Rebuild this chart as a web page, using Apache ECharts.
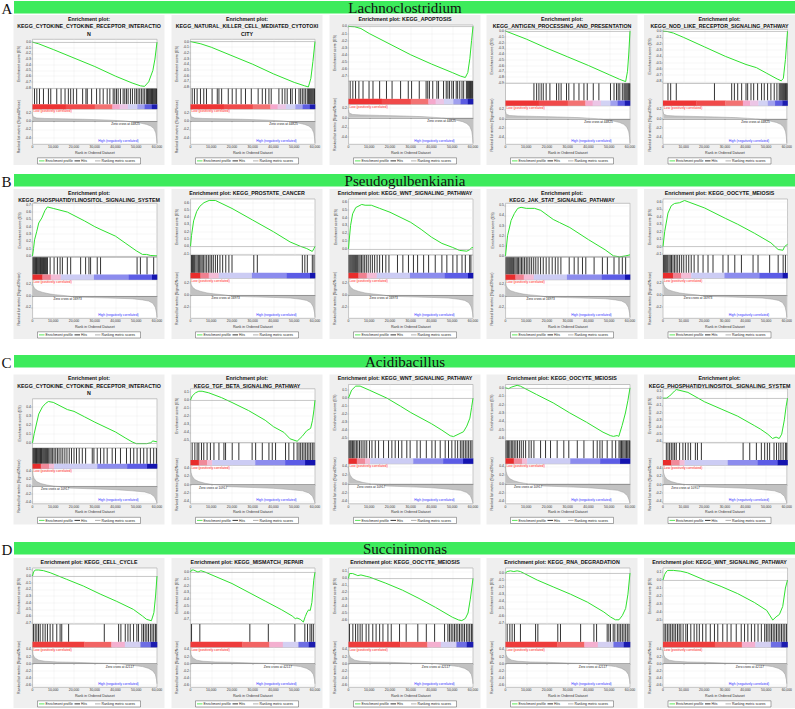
<!DOCTYPE html>
<html><head><meta charset="utf-8">
<script src="https://cdn.jsdelivr.net/npm/echarts@6/dist/echarts.min.js"></script>
<style>html,body{margin:0;padding:0;background:#fff}#c{width:795px;height:709px}</style>
</head><body><div id="c"></div><script>
// ================= DATA =================
const rowNames = ['Lachnoclostridium','Pseudogulbenkiania','Acidibacillus','Succinimonas'];
const rowLetters = ['A','B','C','D'];
const xTicks = [0,10000,20000,30000,40000,50000,60000];
const rankMax = 60000;

// titles
const titleA1 = ['Enrichment plot:','KEGG_CYTOKINE_CYTOKINE_RECEPTOR_INTERACTIO','N'];
const titleA2 = ['Enrichment plot:','KEGG_NATURAL_KILLER_CELL_MEDIATED_CYTOTOXI','CITY'];
const titleA3 = ['Enrichment plot: KEGG_APOPTOSIS'];
const titleA4 = ['Enrichment plot:','KEGG_ANTIGEN_PROCESSING_AND_PRESENTATION'];
const titleA5 = ['Enrichment plot:','KEGG_NOD_LIKE_RECEPTOR_SIGNALING_PATHWAY'];
const titleB1 = ['Enrichment plot:','KEGG_PHOSPHATIDYLINOSITOL_SIGNALING_SYSTEM'];
const titleB2 = ['Enrichment plot: KEGG_PROSTATE_CANCER'];
const titleB3 = ['Enrichment plot: KEGG_WNT_SIGNALING_PATHWAY'];
const titleB4 = ['Enrichment plot:','KEGG_JAK_STAT_SIGNALING_PATHWAY'];
const titleB5 = ['Enrichment plot: KEGG_OOCYTE_MEIOSIS'];
const titleC1 = ['Enrichment plot:','KEGG_CYTOKINE_CYTOKINE_RECEPTOR_INTERACTIO','N'];
const titleC2 = ['Enrichment plot:','KEGG_TGF_BETA_SIGNALING_PATHWAY'];
const titleC3 = ['Enrichment plot: KEGG_WNT_SIGNALING_PATHWAY'];
const titleC4 = ['Enrichment plot: KEGG_OOCYTE_MEIOSIS'];
const titleC5 = ['Enrichment plot:','KEGG_PHOSPHATIDYLINOSITOL_SIGNALING_SYSTEM'];
const titleD1 = ['Enrichment plot: KEGG_CELL_CYCLE'];
const titleD2 = ['Enrichment plot: KEGG_MISMATCH_REPAIR'];
const titleD3 = ['Enrichment plot: KEGG_OOCYTE_MEIOSIS'];
const titleD4 = ['Enrichment plot: KEGG_RNA_DEGRADATION'];
const titleD5 = ['Enrichment plot: KEGG_WNT_SIGNALING_PATHWAY'];

// enrichment score curves [rank, ES]
const esA1 = [[0,0],[3000,-0.03],[10000,-0.13],[20000,-0.28],[30000,-0.43],[40000,-0.6],[48000,-0.72],[52000,-0.77],[54000,-0.78],[56000,-0.7],[58000,-0.5],[59000,-0.3],[60000,0]];
const esA2 = [[0,0],[5000,-0.04],[10000,-0.1],[20000,-0.25],[30000,-0.4],[40000,-0.57],[50000,-0.72],[55000,-0.78],[56800,-0.8],[58000,-0.65],[59000,-0.35],[60000,0]];
const esA3 = [[0,0],[3000,-0.005],[6000,-0.03],[10000,-0.1],[20000,-0.25],[30000,-0.4],[40000,-0.53],[50000,-0.65],[54000,-0.7],[56300,-0.72],[57500,-0.65],[58500,-0.45],[59300,-0.2],[60000,0]];
const esA4 = [[0,0],[10000,-0.14],[20000,-0.3],[30000,-0.45],[40000,-0.6],[50000,-0.76],[55000,-0.84],[57900,-0.88],[58800,-0.7],[59400,-0.4],[60000,0]];
const esA5 = [[0,0],[2000,-0.005],[5000,-0.03],[10000,-0.1],[20000,-0.25],[30000,-0.4],[40000,-0.53],[45000,-0.58],[50000,-0.67],[55000,-0.76],[57000,-0.79],[58000,-0.75],[59000,-0.45],[60000,0]];
const esB1 = [[0,0],[500,0.1],[1000,0.22],[2000,0.33],[3000,0.45],[4500,0.52],[6000,0.62],[7200,0.67],[10000,0.65],[16800,0.6],[25000,0.48],[30000,0.4],[33000,0.36],[40000,0.27],[45000,0.17],[50000,0.07],[53000,0.02],[55000,0.02],[57000,0.005],[60000,0]];
const esB2 = [[0,0],[500,0.15],[1500,0.35],[3000,0.48],[4500,0.55],[6500,0.6],[9000,0.63],[12000,0.63],[20000,0.52],[30000,0.36],[40000,0.2],[48000,0.06],[53000,0],[56000,-0.03],[58700,-0.07],[59500,-0.03],[60000,0]];
const esB3 = [[0,0],[300,0.1],[1000,0.3],[2000,0.45],[3500,0.53],[6400,0.57],[8000,0.56],[11000,0.56],[15000,0.52],[20000,0.47],[30000,0.34],[35000,0.25],[40000,0.15],[45000,0.07],[50000,0.02],[53500,-0.02],[57000,-0.03],[58500,-0.01],[59500,0.02],[60000,0.01]];
const esB4 = [[0,0],[1000,0.2],[2700,0.35],[4300,0.42],[5900,0.47],[7500,0.48],[10000,0.47],[14000,0.47],[17000,0.45],[23000,0.36],[26000,0.33],[31000,0.28],[40000,0.16],[48000,0.06],[52000,0],[55000,-0.01],[58000,0],[60000,0.01]];
const esB5 = [[0,0],[800,0.2],[2400,0.45],[4000,0.55],[5600,0.58],[8000,0.59],[10400,0.62],[20000,0.52],[30000,0.38],[36000,0.3],[44000,0.18],[52000,0.05],[55500,-0.04],[57800,-0.05],[58600,0],[60000,0.03]];
const esC1 = [[0,0],[800,0.1],[2000,0.22],[3000,0.32],[4800,0.4],[6400,0.44],[7700,0.46],[10000,0.45],[16800,0.37],[20000,0.35],[25000,0.29],[30000,0.23],[40000,0.12],[45000,0.05],[48000,0.01],[50000,-0.01],[55000,-0.01],[57000,0],[58000,0.02],[60000,0.01]];
const esC2 = [[0,0],[800,0.05],[2400,0.09],[4000,0.11],[5600,0.11],[8800,0.09],[15000,0.03],[20000,-0.03],[28000,-0.13],[36000,-0.25],[40000,-0.33],[45000,-0.4],[48000,-0.48],[51400,-0.51],[53800,-0.45],[56000,-0.38],[57900,-0.35],[58800,-0.25],[59500,-0.12],[60000,0]];
const esC3 = [[0,0],[1500,0.1],[3500,0.15],[5600,0.15],[10000,0.1],[18500,0],[25000,-0.1],[30000,-0.18],[40000,-0.32],[45000,-0.4],[49000,-0.47],[50600,-0.48],[53800,-0.44],[55400,-0.42],[57000,-0.35],[58500,-0.25],[59300,-0.12],[60000,0]];
const esC4 = [[0,0],[1500,-0.01],[3000,0.01],[5600,0.03],[7200,0.02],[15000,-0.08],[23000,-0.18],[31000,-0.3],[39000,-0.41],[47000,-0.53],[50500,-0.57],[52000,-0.58],[53800,-0.57],[54600,-0.58],[56200,-0.45],[57800,-0.3],[59000,-0.15],[60000,0]];
const esC5 = [[0,0],[1600,0],[3200,0.03],[5600,0.1],[6400,0.12],[12000,0.08],[20000,-0.05],[28000,-0.15],[36000,-0.25],[44000,-0.38],[47000,-0.43],[50500,-0.5],[52800,-0.56],[54500,-0.54],[56000,-0.56],[57200,-0.5],[58500,-0.3],[59300,-0.12],[60000,0]];
const esD1 = [[0,0],[500,0.06],[1300,0.09],[3000,0.09],[5300,0.08],[8500,0.05],[16500,-0.05],[24500,-0.15],[32600,-0.27],[40600,-0.38],[48600,-0.5],[53000,-0.6],[55000,-0.65],[57300,-0.67],[58500,-0.55],[59300,-0.3],[60000,0]];
const esD2 = [[0,0],[500,0.03],[1500,0.03],[3600,0],[5000,0.02],[7000,0],[20000,-0.17],[36000,-0.43],[44000,-0.56],[49000,-0.65],[50500,-0.69],[51300,-0.68],[52900,-0.7],[54400,-0.74],[55300,-0.66],[56100,-0.6],[56900,-0.56],[57700,-0.57],[58500,-0.45],[59400,-0.12],[60000,0]];
const esD3 = [[0,0],[500,0.07],[2000,0.07],[3700,0.05],[4500,0.04],[6000,0.05],[8500,0.03],[10000,0.02],[18000,-0.07],[26000,-0.17],[34000,-0.29],[42000,-0.42],[50000,-0.56],[53000,-0.6],[54600,-0.61],[56300,-0.58],[57600,-0.5],[58700,-0.3],[60000,0]];
const esD4 = [[0,0],[800,0.02],[2400,0.03],[4000,0.02],[5600,0.03],[7200,0.02],[15300,-0.1],[23300,-0.2],[31400,-0.3],[39400,-0.41],[47400,-0.55],[50600,-0.62],[53000,-0.66],[54700,-0.66],[56300,-0.6],[57900,-0.5],[59000,-0.3],[60000,0]];
const esD5 = [[0,0],[800,0.07],[1500,0.1],[2200,0.12],[5000,0.12],[8600,0.11],[11800,0.09],[20000,0],[28000,-0.08],[36000,-0.17],[44000,-0.28],[50000,-0.38],[52900,-0.5],[54500,-0.46],[56100,-0.43],[57700,-0.33],[59000,-0.1],[60000,0]];

// ES axis ranges [min, max]
const esRangeA1 = [-0.82,0.05], esRangeA2 = [-0.83,0.04], esRangeA3 = [-0.77,0.02], esRangeA4 = [-0.91,0.03], esRangeA5 = [-0.83,0.03];
const esRangeB1 = [-0.02,0.72], esRangeB2 = [-0.12,0.65], esRangeB3 = [-0.08,0.64], esRangeB4 = [-0.015,0.52], esRangeB5 = [-0.115,0.64];
const esRangeC1 = [-0.06,0.49], esRangeC2 = [-0.53,0.14], esRangeC3 = [-0.53,0.17], esRangeC4 = [-0.63,0.04], esRangeC5 = [-0.62,0.13];
const esRangeD1 = [-0.72,0.12], esRangeD2 = [-0.77,0.06], esRangeD3 = [-0.66,0.15], esRangeD4 = [-0.72,0.07], esRangeD5 = [-0.55,0.15];

// hit ranks
const hitsA1 = [960,2080,3360,5280,7680,8800,11680,13760,15680,17280,18400,19680,21280,24160,25760,26400,28480,30880,32480,34080,36000,37280,38880,39680,40480,41280,42400,43680,44480,45280,46080,47200,48160,49280,50080,50880,51680,52480,53280,54080,54880,55400,55800,56200,56600,57000,57400,57800,58200,58600,59000,59400,59800];
const hitsA2 = [800,1900,3200,4800,6400,7700,10400,12900,13700,15000,18200,20100,22000,24400,26500,29300,32600,34600,36200,37800,38900,42600,44200,45500,46600,48200,49000,50600,52300,53100,53900,54700,55500,56300,56900,57400,57900,58400,58900,59400,59800];
const hitsA3 = [800,2100,3400,5000,7000,9900,11800,15000,18300,21000,25100,28800,30400,34100,37400,38200,39000,40600,42600,43400,45800,47100,47900,48700,49800,50600,51900,52600,53600,54700,55500,56800,57300,57800,58300,58800,59300,59800];
const hitsA4 = [13700,15000,16100,17200,18200,19600,21400,24600,25700,26800,29400,30500,33000,35400,37800,39400,42300,45000,50600,52300,53500,54300,55100,56300,57100,57600,58100,58600,59100,59500,59900];
const hitsA5 = [2400,3700,6400,24800,33100,34400,36000,37900,40000,40800,42400,43700,45600,47500,48800,50400,52000,53600,54900,56000,56500,57000,57500,58000,58500,59000,59400,59800];
const hitsB1 = [300,700,1100,1500,1900,2300,2700,3100,3500,3900,4300,4800,5300,5800,6300,6800,7200,8500,10400,12000,13300,14400,16800,18400,23200,25600,27200,28000,31200,32800,50400,52000,55200,58400];
const hitsB2 = [500,1000,1500,2000,2600,3200,3800,4400,5000,5600,6200,7000,7800,8600,9400,10200,11000,12000,13000,14200,15500,17000,18500,20000,30500,32200,53900,55100,56300,58700,59500];
const hitsB3 = [300,800,1300,1800,2300,2800,3300,3800,4400,5000,5600,6300,7000,7800,8600,9500,10500,11500,12600,13800,15000,16400,18000,19500,23600,26200,28900,31300,33300,36200,38600,41800,45000,47400,50300,52300,54700,56300,58400,59000];
const hitsB4 = [300,800,1300,1800,2300,2800,3300,3900,4500,5100,5700,6300,7000,7700,8400,9200,10000,10800,11700,12600,13600,14600,15700,16900,18200,19600,21000,22500,24000,25300,26700,30700,33100,35000,37100,38700,42700,46700,49100,52300,54700,56300,57900];
const hitsB5 = [300,800,1300,1800,2300,2900,3500,4100,4800,5500,6300,7100,8000,9000,10000,11200,12400,13600,15000,16900,19300,21700,24100,28900,31400,34600,37800,43400,45800,51400,55500,57900,59000];
const hitsC1 = [300,700,1100,1500,1900,2300,2700,3100,3500,3900,4300,4700,5200,5700,6200,6700,7200,7800,8400,9000,9700,10400,11200,12000,12800,13700,14600,15600,16600,17700,18800,20000,21200,22500,24000,25600,28800,29600,31200,32800,34400,36000,38400,40000,42400,45300,47200,48800,50400,52000,53600,55200,56800,58400,59700];
const hitsC2 = [800,2100,3200,4000,5300,6400,8000,9600,11300,13700,16100,16900,20100,23300,29700,31400,34600,37800,39400,41000,45800,47400,49800,51400,52300,53100,53900,54700,55500,56300,57100,57900,58700,59500];
const hitsC3 = [300,800,1300,1900,2500,3100,3800,4500,5300,6100,7000,7900,8800,10100,11300,12900,14500,16900,19300,20900,22500,24100,25700,28100,29700,33000,34600,37500,40200,41800,44200,46600,48200,49800,51400,52600,53900,54700,55500,56300,57100,57900,58700,59500];
const hitsC4 = [300,900,1500,2100,2800,3500,4200,5000,5800,6700,7600,8600,9700,11300,12400,13700,16900,19300,21700,24900,28100,30500,34600,37800,42300,44200,45500,46600,49000,51400,53100,54700,55300,55900,56500,57100,57700,58300,58900,59500,59900];
const hitsC5 = [1600,2400,3200,4000,4800,5600,6400,8000,9600,10800,12100,13300,15600,16600,18500,38600,41800,45000,47400,49000,50300,51400,53500,54700,55800,56800,57900,59000,59600];
const hitsD1 = [500,1300,2100,2900,3700,5000,6100,7200,8500,9800,11700,13300,14100,17400,34600,41500,42600,44700,46000,47100,48700,50300,51100,52700,53500,54300,55100,55900,56800,57600,58400,59200,59600];
const hitsD2 = [500,4500,28600,37500,50300,55100,56400,57600,58400,59200];
const hitsD3 = [500,2100,3400,4500,5600,6600,8500,9800,11700,13300,15000,16600,19000,20600,24600,27800,33400,37500,41500,46300,47900,48700,49500,50300,51100,51900,52700,53500,54300,55100,55900,56800,57600,58400,59200,59600];
const hitsD4 = [800,2100,3200,4300,7200,14500,15600,25200,26500,36200,42600,43900,49000,49800,50600,51900,52700,53900,54700,55500,56300,57100,57900,58700,59500];
const hitsD5 = [500,1300,2100,2900,3700,4500,5300,6100,7000,7800,8600,9700,11000,11800,13400,15000,16300,17500,19100,20700,22800,24800,26400,28800,30900,32800,35300,37700,39300,40900,42600,44200,45800,47400,49000,49800,50600,51500,52300,53100,53900,54700,55500,56300,57100,57900,58700,59500];

// ranked list metric per row [rank, value]
const metricA = [[0,0.16],[300,0.1],[2000,0.07],[6000,0.06],[15000,0.05],[25000,0.04],[35000,0.025],[41000,0.01],[44825,0],[48000,-0.02],[52000,-0.05],[55000,-0.08],[57000,-0.12],[58500,-0.18],[59400,-0.28],[59800,-0.4],[60000,-0.52]];
const metricB = [[0,0.24],[300,0.18],[1000,0.13],[2500,0.09],[5000,0.06],[8000,0.035],[11000,0.02],[16973,0],[20000,-0.02],[30000,-0.03],[40000,-0.04],[48000,-0.05],[53000,-0.07],[56000,-0.09],[58000,-0.13],[59200,-0.2],[59800,-0.3],[60000,-0.37]];
const metricC = [[0,0.4],[300,0.28],[800,0.2],[2000,0.12],[4000,0.07],[7000,0.03],[10917,0],[17000,-0.02],[18000,-0.05],[30000,-0.07],[40000,-0.09],[48000,-0.12],[54000,-0.15],[57000,-0.2],[58800,-0.28],[59600,-0.38],[60000,-0.44]];
const metricD = [[0,0.38],[300,0.25],[1000,0.17],[3000,0.1],[6000,0.07],[12000,0.05],[20000,0.04],[30000,0.02],[38000,0.01],[42117,0],[48000,-0.04],[53000,-0.08],[56000,-0.13],[58000,-0.2],[59200,-0.3],[59800,-0.45],[60000,-0.56]];
const zeroCross = [44825, 16973, 10917, 42117];
const metricRanges = [[-0.55,0.28],[-0.39,0.28],[-0.46,0.46],[-0.66,0.46]];

// colour-bar band boundaries (ranks) per row
const bandsA = [0,16000,30000,38500,42000,46000,50500,54000,57500,60000];
const bandsB = [0,4800,8800,13600,29600,46400,57600,60000];
const bandsC = [0,4000,8000,10400,31200,45600,55200,60000];
const bandsD = [0,25000,38000,44500,52000,57000,60000];

// ================= STYLE =================
const bandColorsA = ['#ee3434','#f04a4a','#f37272','#f5a8cc','#ecc6e6','#d2d2f4','#a0a0ee','#5c5ce2','#1c1cb0'];
const bandColorsB = ['#e82c2c','#f08090','#f4bcd6','#ccccf4','#8c8cee','#5c5ce6','#1414b0'];
const bandColorsC = ['#e82c2c','#f08a9a','#f4bcd6','#ccccf4','#8c8cee','#5c5ce6','#1414b0'];
const bandColorsD = ['#ee3c3c','#f26464','#f4b0d0','#d4d0f2','#6e6ee4','#1c1cb0'];

const panelTitles = [titleA1,titleA2,titleA3,titleA4,titleA5,titleB1,titleB2,titleB3,titleB4,titleB5,titleC1,titleC2,titleC3,titleC4,titleC5,titleD1,titleD2,titleD3,titleD4,titleD5];
const panelES = [esA1,esA2,esA3,esA4,esA5,esB1,esB2,esB3,esB4,esB5,esC1,esC2,esC3,esC4,esC5,esD1,esD2,esD3,esD4,esD5];
const panelRanges = [esRangeA1,esRangeA2,esRangeA3,esRangeA4,esRangeA5,esRangeB1,esRangeB2,esRangeB3,esRangeB4,esRangeB5,esRangeC1,esRangeC2,esRangeC3,esRangeC4,esRangeC5,esRangeD1,esRangeD2,esRangeD3,esRangeD4,esRangeD5];
const panelHits = [hitsA1,hitsA2,hitsA3,hitsA4,hitsA5,hitsB1,hitsB2,hitsB3,hitsB4,hitsB5,hitsC1,hitsC2,hitsC3,hitsC4,hitsC5,hitsD1,hitsD2,hitsD3,hitsD4,hitsD5];
const rowMetric = [metricA,metricB,metricC,metricD];
const rowBands = [bandsA,bandsB,bandsC,bandsD];
const rowBandColors = [bandColorsA,bandColorsB,bandColorsC,bandColorsD];

const colLeft = [13.5,171.5,329.5,486.5,644];
const rowTop = [15,189,374.5,558];
const barTop = [1,174,355,542];
const panelW = 151, panelH = 150;
const FONT = '"Liberation Sans", Arial, sans-serif';
const GREEN = '#2fe02f';

const mctx = document.createElement('canvas').getContext('2d');
function textW(s, fs){ mctx.font = 'bold ' + fs + 'px "Liberation Sans"'; return mctx.measureText(s).width; }
function fmtX(v){ return v === 0 ? '0' : String(v).replace(/\B(?=(\d{3})+(?!\d))/g, ','); }
function ticks(r, step){ const out=[]; const k0=Math.ceil(r[0]/step-1e-6), k1=Math.floor(r[1]/step+1e-6); for(let k=k0;k<=k1;k++){ out.push(k===0?0:+(k*step).toFixed(2)); } return out; }
function fmtY(v){ const s = (Math.abs(v)<1e-9?0:v).toFixed(1); return s === '-0.0' ? '0.0' : s; }

const grids=[], xAxes=[], yAxes=[], series=[], graphics=[];

// header bars
for (let r=0;r<4;r++){
  graphics.push({type:'rect', shape:{x:14,y:barTop[r],width:781,height:12.5}, style:{fill:'#3deb5c'}, z:-50});
  graphics.push({type:'text', x:405, y:barTop[r]+7, style:{text:rowNames[r], x:0, y:0, fill:'#111', font:'15px "Liberation Serif", "Times New Roman", serif', align:'center', verticalAlign:'middle', textAlign:'center', textVerticalAlign:'middle'}});
  graphics.push({type:'text', x:1.5, y:barTop[r]+7.5, style:{text:rowLetters[r], x:0, y:0, fill:'#111', font:'15px "Liberation Serif", "Times New Roman", serif', align:'left', verticalAlign:'middle', textAlign:'left', textVerticalAlign:'middle'}});
}

function xAxis(gi, showLabels){
  return {gridIndex:gi, type:'value', min:0, max:rankMax, interval:10000,
    axisLine:{show:false},
    axisTick:{show:showLabels, length:1.2, lineStyle:{color:'#777', width:0.4}},
    axisLabel:{show:showLabels, fontSize:3.4, color:'#333', margin:1.5, fontFamily:FONT, formatter:fmtX},
    splitLine:{show:true, lineStyle:{color:'#e9e9e9', width:0.4}},
    name: showLabels ? 'Rank in Ordered Dataset' : '', nameLocation:'middle', nameGap:6.5,
    nameTextStyle:{fontSize:3.6, color:'#333', fontFamily:FONT}};
}

for (let p=0;p<20;p++){
  const r = Math.floor(p/5), c = p%5;
  const px = colLeft[c], py = rowTop[r];
  const title = panelTitles[p];
  const n = title.length;
  graphics.push({type:'rect', shape:{x:px,y:py,width:panelW,height:panelH}, style:{fill:'#efefef'}, z:-100});
  let maxW = 0; title.forEach(s=>{ maxW = Math.max(maxW, textW(s, 5.3)); });
  const fs = Math.min(5.3, 5.3*146/maxW);
  title.forEach((s,i)=>{
    graphics.push({type:'text', x:px+panelW/2, y:py+3.8+i*7.4, style:{text:s, x:0, y:0, fill:'#111', fontSize:fs, fontWeight:'bold', fontFamily:FONT, align:'center', verticalAlign:'middle', textAlign:'center', textVerticalAlign:'middle'}});
  });
  const plotTop = py + [10,14.3,24.3][n-1];
  const plotBot = py + 129.3;
  const plotL = px + 19, plotW = 124.5;
  const T = plotBot - plotTop;
  const esH = T*0.47, hitsH = T*0.195, metH = T - esH - hitsH;
  const gBase = {show:true, backgroundColor:'#fff', borderColor:'#8c8c8c', borderWidth:0.5, left:plotL, width:plotW};
  const g0 = grids.length; grids.push(Object.assign({}, gBase, {top:plotTop, height:esH}));
  const g1 = grids.length; grids.push(Object.assign({}, gBase, {top:plotTop+esH, height:hitsH}));
  const g2 = grids.length; grids.push(Object.assign({}, gBase, {top:plotTop+esH+hitsH, height:metH}));
  xAxes.push(xAxis(g0,false));
  xAxes.push(Object.assign(xAxis(g1,false), {splitLine:{show:false}}));
  xAxes.push(xAxis(g2,true));
  const er = panelRanges[p];
  const tv = ticks(er, 0.1);
  yAxes.push({gridIndex:g0, type:'value', min:er[0], max:er[1],
    axisLine:{show:false},
    axisTick:{show:true, customValues:tv, length:1.2, lineStyle:{color:'#777', width:0.4}},
    axisLabel:{customValues:tv, fontSize:3.4, color:'#333', margin:1.5, fontFamily:FONT, formatter:fmtY},
    splitLine:{show:true, lineStyle:{color:'#e9e9e9', width:0.4}},
    name:'Enrichment score (ES)', nameLocation:'middle', nameGap:10.5, nameTextStyle:{fontSize:3.6, color:'#333', fontFamily:FONT}});
  yAxes.push({gridIndex:g1, type:'value', min:0, max:1, show:false, splitLine:{show:false}});
  const mr = metricRanges[r];
  const mv = ticks(mr, 0.2);
  yAxes.push({gridIndex:g2, type:'value', min:mr[0], max:mr[1],
    axisLine:{show:false},
    axisTick:{show:true, customValues:mv, length:1.2, lineStyle:{color:'#777', width:0.4}},
    axisLabel:{customValues:mv, fontSize:3.4, color:'#333', margin:1.5, fontFamily:FONT, formatter:fmtY},
    splitLine:{show:true, lineStyle:{color:'#e9e9e9', width:0.4}},
    name:'Ranked list metric (Signal2Noise)', nameLocation:'middle', nameGap:10.5, nameTextStyle:{fontSize:3.6, color:'#333', fontFamily:FONT}});

  series.push({type:'line', xAxisIndex:g0, yAxisIndex:g0, data:panelES[p], symbol:'none', silent:true, animation:false,
    lineStyle:{color:GREEN, width:1},
    markLine:{silent:true, symbol:'none', animation:false, label:{show:false}, lineStyle:{color:'#9a9a9a', width:0.5, type:'solid'}, data:[{yAxis:0}]}, z:3});
  series.push({type:'custom', xAxisIndex:g1, yAxisIndex:g1, silent:true, animation:false,
    data: panelHits[p].map(v=>[v,1]), encode:{x:0,y:1},
    renderItem:(params, api)=>{ const x=api.value(0); const a=api.coord([x,1]); const b=api.coord([x,0.235]);
      return {type:'line', shape:{x1:a[0],y1:a[1],x2:b[0],y2:b[1]}, style:{stroke:'#000', lineWidth:0.8}}; }});
  const bands = rowBands[r], bcol = rowBandColors[r];
  const bandData = []; for (let i=0;i<bands.length-1;i++) bandData.push([bands[i], bands[i+1], 0.1, i]);
  series.push({type:'custom', xAxisIndex:g1, yAxisIndex:g1, silent:true, animation:false,
    data: bandData, encode:{x:[0,1], y:2},
    renderItem:(params, api)=>{ const s=api.coord([api.value(0),0.235]); const e=api.coord([api.value(1),0]);
      return {type:'rect', shape:{x:s[0], y:s[1], width:e[0]-s[0]+0.3, height:e[1]-s[1]}, style:{fill:bcol[api.value(3)]}}; }});
  series.push({type:'line', xAxisIndex:g2, yAxisIndex:g2, data:rowMetric[r], symbol:'none', silent:true, animation:false,
    lineStyle:{color:'#9c9c9c', width:0.5}, areaStyle:{color:'#c2c2c2', opacity:1, origin:'auto'},
    markLine:{silent:true, symbol:'none', animation:false, label:{show:false}, lineStyle:{color:'#666', width:0.5, type:'solid'}, data:[{yAxis:0}]},
    markPoint:{silent:true, animation:false, symbol:'circle', symbolSize:0.1, itemStyle:{color:'rgba(0,0,0,0)'},
      label:{show:true, position:'bottom', distance:1.5, formatter:'Zero cross at '+zeroCross[r], fontSize:3.2, color:'#222', fontFamily:FONT},
      data:[{coord:[zeroCross[r],0]}]}});

  const metTop = plotTop+esH+hitsH;
  graphics.push({type:'text', x:plotL+1, y:metTop+2.2, style:{text:'Low (positively correlated)', x:0, y:0, fill:'#ff2020', fontSize:3.3, fontFamily:FONT, align:'left', verticalAlign:'middle', textAlign:'left', textVerticalAlign:'middle'}, z:10});
  graphics.push({type:'text', x:plotL+plotW*0.69, y:plotBot-3.5, style:{text:'High (negatively correlated)', x:0, y:0, fill:'#3030ff', fontSize:3.3, fontFamily:FONT, align:'center', verticalAlign:'middle', textAlign:'center', textVerticalAlign:'middle'}, z:10});

  const lx = px+24, ly = py+142.8;
  graphics.push({type:'rect', shape:{x:lx,y:ly,width:103,height:6.2}, style:{fill:'#fff', stroke:'#555', lineWidth:0.5}, z:5});
  const items = [[1.5,GREEN,'Enrichment profile'],[37,'#000','Hits'],[57.5,'#9c9c9c','Ranking metric scores']];
  items.forEach(it=>{
    graphics.push({type:'line', shape:{x1:lx+it[0], y1:ly+3.1, x2:lx+it[0]+5.5, y2:ly+3.1}, style:{stroke:it[1], lineWidth:0.8}, z:6});
    graphics.push({type:'text', x:lx+it[0]+6.5, y:ly+3.2, style:{text:it[2], x:0, y:0, fill:'#222', fontSize:3.4, fontFamily:FONT, align:'left', verticalAlign:'middle', textAlign:'left', textVerticalAlign:'middle'}, z:6});
  });
}

const chart = echarts.init(document.getElementById('c'), null, {renderer:'svg', width:795, height:709});
chart.setOption({
  animation:false,
  backgroundColor:'#fff',
  grid:grids, xAxis:xAxes, yAxis:yAxes, series:series,
  graphic:{elements:graphics}
});
</script></body></html>
